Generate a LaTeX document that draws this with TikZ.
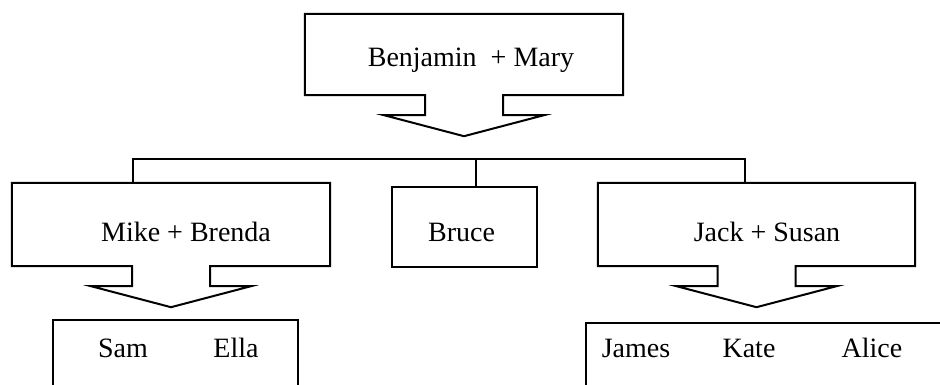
\documentclass[tikz,border=0pt]{standalone}
\usepackage{fontspec}
\setmainfont{Liberation Serif}
\usetikzlibrary{positioning,calc}
\tikzset{
  couple/.style={minimum width=318pt, minimum height=83pt, inner sep=0pt},
  box/.style={draw, line width=2pt, inner sep=0pt},
  person/.style={anchor=base, inner sep=0pt, font=\fontsize{28}{32}\selectfont},
  link/.style={line width=2pt}
}
% box with the block arrow under it
\newcommand{\arrowbox}[1]{%
  \draw[link] ($(#1.south)+(39,0)$) -| (#1.north east) -| (#1.south west)
    -- ($(#1.south)+(-39,0)$) -- ++(0,-20) -- ++(-41,0)
    -- ($(#1.south)+(0,-41)$) -- ($(#1.south)+(80,-20)$) -- ++(-41,0) -- cycle;}

\begin{document}
\begin{tikzpicture}[x=1pt, y=1pt]
            \useasboundingbox (0,0) rectangle (940,385);
            \clip (0,0) rectangle (940,385);

            % Padres
            \draw node[couple, minimum height=81pt] (bm) at (464,330.5) {};
            \arrowbox{bm}
            \draw node[person] (bmN) at (471,318) {Benjamin~~+ Mary};

            % Hijos
            \draw node[couple] (mb) at (171,160.5) {};
            \arrowbox{mb}
            \draw node[person] (mbN) at (186,143.3) {Mike + Brenda};

            \draw node[box, minimum width=145pt, minimum height=80pt, anchor=north] (br) at (464.5,199) {};
            \draw node[person] (brN) at (461.5,143.3) {Bruce};

            \draw node[couple, minimum width=317pt] (js) at (756.5,160.5) {};
            \arrowbox{js}
            \draw node[person] (jsN) at (767,143.3) {Jack + Susan};

            \coordinate (busL) at (133,226);
            \coordinate (busB) at (476,226);
            \coordinate (busR) at (745,226);
            \draw[link] (busL |- mb.north) -- (busL) -- (busR) -- (busR |- js.north);
            \draw[link] (busB) -- (busB |- br.north);

            % Nietos
            \draw node[box, minimum width=245pt, minimum height=120pt, anchor=north west] (kids1) at (52,66) {};
            \draw node[person] (sam) at (123,27) {Sam};
            \draw node[person] (ella) at (236,27) {Ella};

            \draw node[box, minimum width=500pt, minimum height=120pt, anchor=north west] (kids2) at (585,63) {};
            \draw node[person] (james) at (636,27) {James};
            \draw node[person] (kate) at (749,27) {Kate};
            \draw node[person] (alice) at (872,27) {Alice};

\end{tikzpicture}
\end{document}
